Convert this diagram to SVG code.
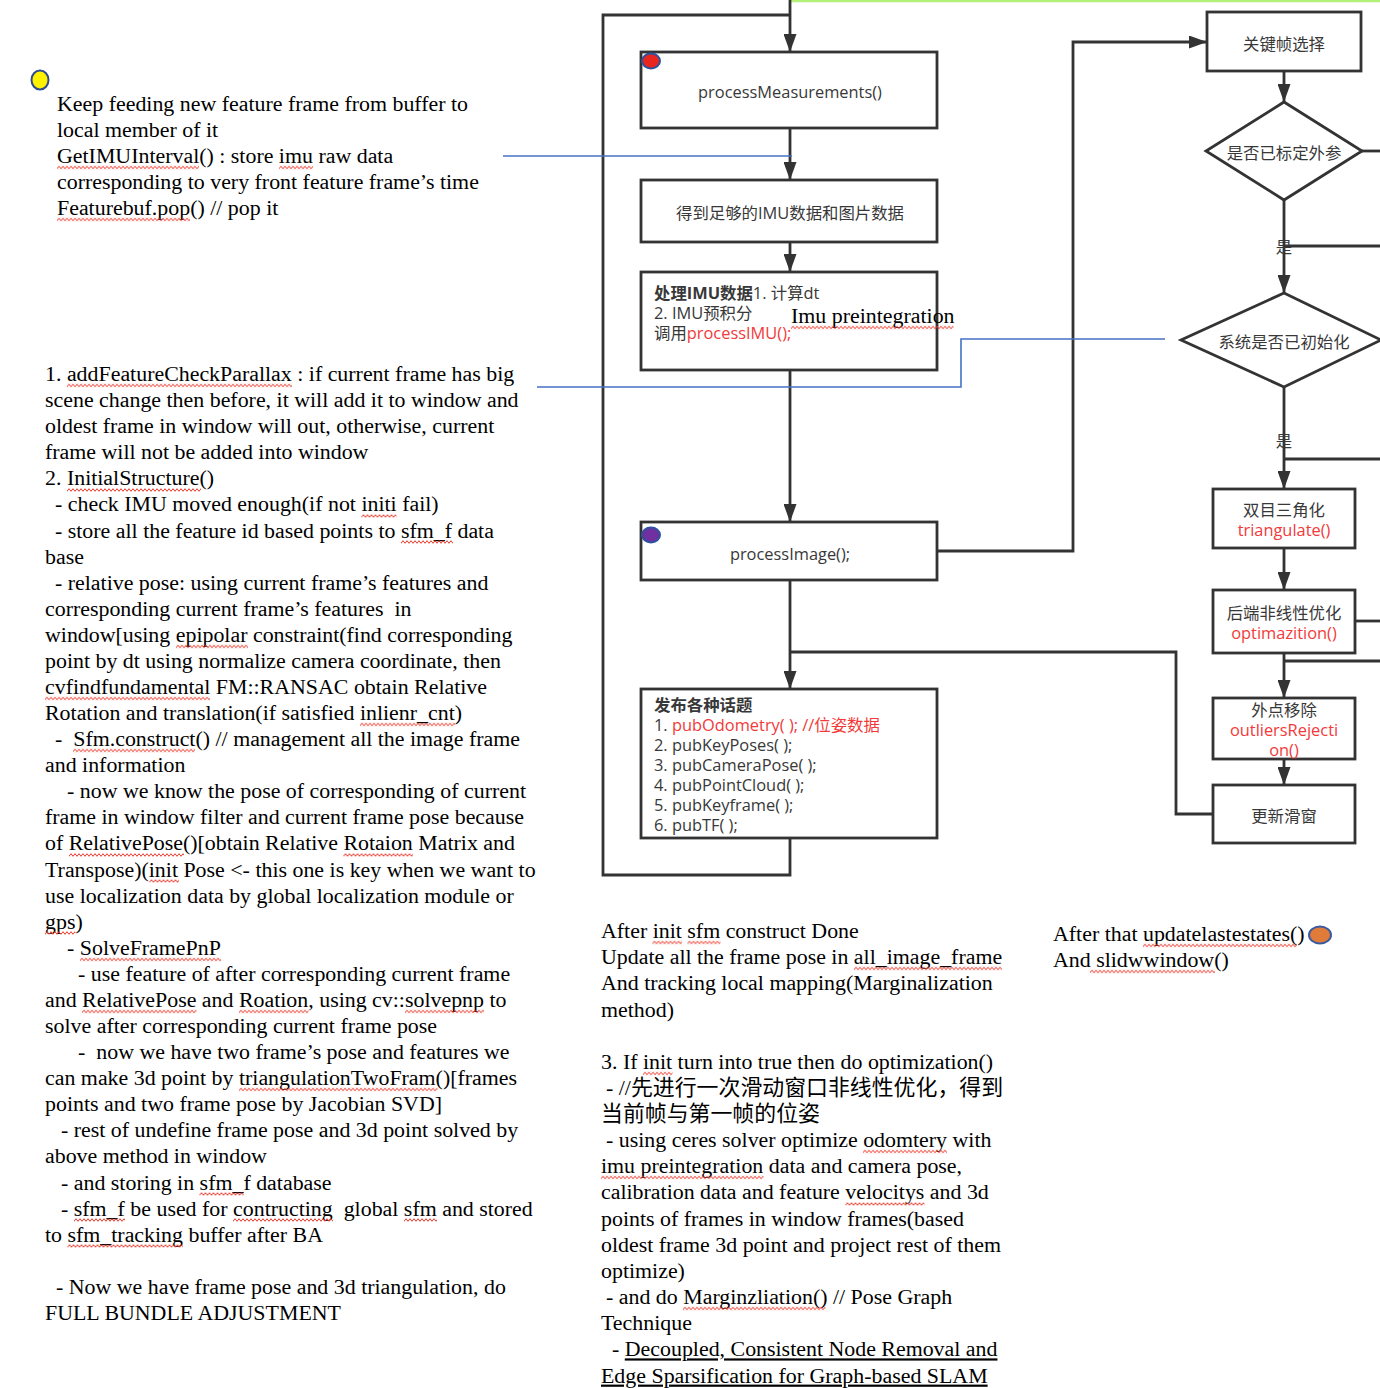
<svg xmlns="http://www.w3.org/2000/svg" width="1380" height="1388" viewBox="0 0 1380 1388">
<defs>
<marker id="arr" markerUnits="userSpaceOnUse" markerWidth="18" markerHeight="13" refX="18" refY="6.5" orient="auto">
<path d="M0,0 L18,6.5 L0,13 z" fill="#333"/>
</marker>
<pattern id="wave" patternUnits="userSpaceOnUse" width="4" height="4">
<path d="M-2,0.7 L0,3.3 L2,0.7 L4,3.3 L6,0.7" fill="none" stroke="#e8392b" stroke-width="1"/>
</pattern>
</defs>
<style>
.box{fill:#fff;stroke:#333;stroke-width:2.8}
.conn{fill:none;stroke:#333;stroke-width:2.8}
.note{fill:none;stroke:#4472C4;stroke-width:1.6}
.fc{font-family:"Open Sans","Noto Sans CJK SC",sans-serif;font-size:16.4px;fill:#383838}
.mid{text-anchor:middle}
.red{fill:#f23a3a}
.b{font-weight:bold}
.doc{font-family:"Liberation Serif","Noto Sans CJK SC",serif;font-size:21.9px;fill:#000}
.ul{text-decoration:underline}
</style>
<rect width="1380" height="1388" fill="#fff"/>

<g id="connectors">
<path d="M790,1 L1380,1" fill="none" stroke="#b2f07a" stroke-width="2.5"/>
<path class="conn" d="M790,0 L790,52" marker-end="url(#arr)"/>
<path class="conn" d="M790,15 L603,15 L603,875 L790,875 L790,838"/>
<path class="conn" d="M790,128 L790,180" marker-end="url(#arr)"/>
<path class="conn" d="M790,242 L790,272" marker-end="url(#arr)"/>
<path class="conn" d="M790,370 L790,522" marker-end="url(#arr)"/>
<path class="conn" d="M790,580 L790,689" marker-end="url(#arr)"/>
<path class="conn" d="M790,652 L1176,652 L1176,814 L1213,814"/>
<path class="conn" d="M937,551 L1073,551 L1073,42 L1207,42" marker-end="url(#arr)"/>
<path class="conn" d="M1284,71 L1284,102" marker-end="url(#arr)"/>
<path class="conn" d="M1362,151 L1380,151"/>
<path class="conn" d="M1284,200 L1284,293" marker-end="url(#arr)"/>
<path class="conn" d="M1284,246 L1380,246"/>
<path class="conn" d="M1284,387 L1284,489" marker-end="url(#arr)"/>
<path class="conn" d="M1284,459 L1380,459"/>
<path class="conn" d="M1284,548 L1284,590" marker-end="url(#arr)"/>
<path class="conn" d="M1355,621 L1380,621"/>
<path class="conn" d="M1284,661 L1380,661"/>
<path class="conn" d="M1284,653 L1284,698" marker-end="url(#arr)"/>
<path class="conn" d="M1284,759 L1284,785" marker-end="url(#arr)"/>
<path class="note" d="M503,156 L792,156"/>
<path class="note" d="M537,387 L961,387 L961,339 L1165,339"/>
</g>

<g id="processMeasurements">
<rect class="box" x="641" y="52" width="296" height="76"/>
<ellipse cx="651" cy="61" rx="9" ry="7.5" fill="#e8261f" stroke="#2f52a0" stroke-width="2"/>
<text class="fc mid" x="790" y="98">processMeasurements()</text>
</g>
<g id="getData">
<rect class="box" x="641" y="180" width="296" height="62"/>
<text class="fc mid" x="790" y="219">得到足够的IMU数据和图片数据</text>
</g>
<g id="processIMU">
<rect class="box" x="641" y="272" width="296" height="98"/>
<text class="fc" x="654" y="299"><tspan class="b">处理IMU数据</tspan>1. 计算dt</text>
<text class="fc" x="654" y="319">2. IMU预积分</text>
<text class="fc" x="654" y="339">调用<tspan class="red">processIMU();</tspan></text>
<text class="doc" x="791" y="323">Imu preintegration</text>
</g>
<g id="processImage">
<rect class="box" x="641" y="522" width="296" height="58"/>
<ellipse cx="651" cy="535" rx="9" ry="7.5" fill="#7030a0" stroke="#2f52a0" stroke-width="2"/>
<text class="fc mid" x="790" y="560">processImage();</text>
</g>
<g id="publish">
<rect class="box" x="641" y="689" width="296" height="149"/>
<text class="fc b" x="654" y="711">发布各种话题</text>
<text class="fc" x="654" y="731">1. <tspan class="red">pubOdometry( ); //位姿数据</tspan></text>
<text class="fc" x="654" y="751">2. pubKeyPoses( );</text>
<text class="fc" x="654" y="771">3. pubCameraPose( );</text>
<text class="fc" x="654" y="791">4. pubPointCloud( );</text>
<text class="fc" x="654" y="811">5. pubKeyframe( );</text>
<text class="fc" x="654" y="831">6. pubTF( );</text>
</g>
<g id="keyframe">
<rect class="box" x="1207" y="12" width="154" height="59"/>
<text class="fc mid" x="1284" y="50">关键帧选择</text>
</g>
<g id="calibDecision">
<polygon class="box" points="1284,102 1362,151 1284,200 1206,151"/>
<text class="fc mid" x="1284" y="159">是否已标定外参</text>
<text class="fc mid" x="1284" y="253">是</text>
</g>
<g id="initDecision">
<polygon class="box" points="1284,293 1381,340 1284,387 1181,340"/>
<text class="fc mid" x="1284" y="348">系统是否已初始化</text>
<text class="fc mid" x="1284" y="447">是</text>
</g>
<g id="triangulate">
<rect class="box" x="1213" y="489" width="142" height="59"/>
<text class="fc mid" x="1284" y="516">双目三角化</text>
<text class="fc mid red" x="1284" y="536">triangulate()</text>
</g>
<g id="optimization">
<rect class="box" x="1213" y="590" width="142" height="63"/>
<text class="fc mid" x="1284" y="619">后端非线性优化</text>
<text class="fc mid red" x="1284" y="639">optimazition()</text>
</g>
<g id="outliers">
<rect class="box" x="1213" y="698" width="142" height="61"/>
<text class="fc mid" x="1284" y="716">外点移除</text>
<text class="fc mid red" x="1284" y="736">outliersRejecti</text>
<text class="fc mid red" x="1284" y="756">on()</text>
</g>
<g id="slideWindow">
<rect class="box" x="1213" y="785" width="142" height="58"/>
<text class="fc mid" x="1284" y="822">更新滑窗</text>
</g>

<g id="note1">
<ellipse cx="40" cy="80" rx="8.5" ry="9.5" fill="#fff200" stroke="#2f4b8c" stroke-width="2"/>
<text class="doc" x="57" y="111">Keep feeding new feature frame from buffer to</text>
<text class="doc" x="57" y="137">local member of it</text>
<text class="doc" x="57" y="163">GetIMUInterval() : store imu raw data</text>
<text class="doc" x="57" y="189">corresponding to very front feature frame’s time</text>
<text class="doc" x="57" y="215">Featurebuf.pop() // pop it</text>
</g>

<g id="note2">
<text class="doc" x="45" y="381">1. addFeatureCheckParallax : if current frame has big</text>
<text class="doc" x="45" y="407.1">scene change then before, it will add it to window and</text>
<text class="doc" x="45" y="433.2">oldest frame in window will out, otherwise, current</text>
<text class="doc" x="45" y="459.2">frame will not be added into window</text>
<text class="doc" x="45" y="485.3">2. InitialStructure()</text>
<text class="doc" x="55" y="511.4">- check IMU moved enough(if not initi fail)</text>
<text class="doc" x="55" y="537.5">- store all the feature id based points to sfm_f data</text>
<text class="doc" x="45" y="563.6">base</text>
<text class="doc" x="55" y="589.6">- relative pose: using current frame’s features and</text>
<text class="doc" x="45" y="615.7" xml:space="preserve">corresponding current frame’s features  in</text>
<text class="doc" x="45" y="641.8">window[using epipolar constraint(find corresponding</text>
<text class="doc" x="45" y="667.9">point by dt using normalize camera coordinate, then</text>
<text class="doc" x="45" y="694">cvfindfundamental FM::RANSAC obtain Relative</text>
<text class="doc" x="45" y="720">Rotation and translation(if satisfied inlienr_cnt)</text>
<text class="doc" x="55" y="746.1" xml:space="preserve">-  Sfm.construct() // management all the image frame</text>
<text class="doc" x="45" y="772.2">and information</text>
<text class="doc" x="67" y="798.3">- now we know the pose of corresponding of current</text>
<text class="doc" x="45" y="824.4">frame in window filter and current frame pose because</text>
<text class="doc" x="45" y="850.4">of RelativePose()[obtain Relative Rotaion Matrix and</text>
<text class="doc" x="45" y="876.5">Transpose)(init Pose &lt;- this one is key when we want to</text>
<text class="doc" x="45" y="902.6">use localization data by global localization module or</text>
<text class="doc" x="45" y="928.7">gps)</text>
<text class="doc" x="67" y="954.8">- SolveFramePnP</text>
<text class="doc" x="78" y="980.8">- use feature of after corresponding current frame</text>
<text class="doc" x="45" y="1006.9">and RelativePose and Roation, using cv::solvepnp to</text>
<text class="doc" x="45" y="1033">solve after corresponding current frame pose</text>
<text class="doc" x="78" y="1059.1" xml:space="preserve">-  now we have two frame’s pose and features we</text>
<text class="doc" x="45" y="1085.2">can make 3d point by triangulationTwoFram()[frames</text>
<text class="doc" x="45" y="1111.2">points and two frame pose by Jacobian SVD]</text>
<text class="doc" x="61" y="1137.3">- rest of undefine frame pose and 3d point solved by</text>
<text class="doc" x="45" y="1163.4">above method in window</text>
<text class="doc" x="61" y="1189.5">- and storing in sfm_f database</text>
<text class="doc" x="61" y="1215.6" xml:space="preserve">- sfm_f be used for contructing  global sfm and stored</text>
<text class="doc" x="45" y="1241.6">to sfm_tracking buffer after BA</text>
<text class="doc" x="56" y="1293.8">- Now we have frame pose and 3d triangulation, do</text>
<text class="doc" x="45" y="1319.9">FULL BUNDLE ADJUSTMENT</text>
</g>

<g id="note3">
<text class="doc" x="601" y="938">After init sfm construct Done</text>
<text class="doc" x="601" y="964.2">Update all the frame pose in all_image_frame</text>
<text class="doc" x="601" y="990.3">And tracking local mapping(Marginalization</text>
<text class="doc" x="601" y="1016.5">method)</text>
<text class="doc" x="601" y="1068.8">3. If init turn into true then do optimization()</text>
<text class="doc" x="606" y="1094.9">- //先进行一次滑动窗口非线性优化，得到</text>
<text class="doc" x="601" y="1121.1">当前帧与第一帧的位姿</text>
<text class="doc" x="606" y="1147.2">- using ceres solver optimize odomtery with</text>
<text class="doc" x="601" y="1173.2">imu preintegration data and camera pose,</text>
<text class="doc" x="601" y="1199.4">calibration data and feature velocitys and 3d</text>
<text class="doc" x="601" y="1225.5">points of frames in window frames(based</text>
<text class="doc" x="601" y="1251.7">oldest frame 3d point and project rest of them</text>
<text class="doc" x="601" y="1277.8">optimize)</text>
<text class="doc" x="606" y="1304.1">- and do Marginzliation() // Pose Graph</text>
<text class="doc" x="601" y="1330.3">Technique</text>
<text class="doc" x="612" y="1356.4">- <tspan class="ul">Decoupled, Consistent Node Removal and</tspan></text>
<text class="doc" x="601" y="1382.6"><tspan class="ul">Edge Sparsification for Graph-based SLAM</tspan></text>
</g>

<g id="note4">
<text class="doc" x="1053" y="941">After that updatelastestates()</text>
<ellipse cx="1320" cy="935" rx="11" ry="8.5" fill="#e07b39" stroke="#3a5ba0" stroke-width="2"/>
<text class="doc" x="1053" y="967">And slidwwindow()</text>
</g>

<g id="spellcheck" fill="url(#wave)">
<rect transform="translate(57,165.5)" width="142" height="4"/>
<rect transform="translate(279,165.5)" width="34" height="4"/>
<rect transform="translate(57,217.5)" width="133" height="4"/>
<rect transform="translate(67,383.5)" width="225" height="4"/>
<rect transform="translate(67,488)" width="134" height="4"/>
<rect transform="translate(361.5,514)" width="35" height="4"/>
<rect transform="translate(401,540)" width="52" height="4"/>
<rect transform="translate(176,644.5)" width="72" height="4"/>
<rect transform="translate(45,696.5)" width="165" height="4"/>
<rect transform="translate(360,722.5)" width="95" height="4"/>
<rect transform="translate(73,748.5)" width="122" height="4"/>
<rect transform="translate(69,853)" width="115" height="4"/>
<rect transform="translate(343.5,853)" width="69.5" height="4"/>
<rect transform="translate(149.5,879)" width="29.5" height="4"/>
<rect transform="translate(45,931)" width="30.5" height="4"/>
<rect transform="translate(80,957.5)" width="141" height="4"/>
<rect transform="translate(82,1009.5)" width="114.5" height="4"/>
<rect transform="translate(239,1009.5)" width="69.5" height="4"/>
<rect transform="translate(405,1009.5)" width="79" height="4"/>
<rect transform="translate(239,1087.5)" width="198.5" height="4"/>
<rect transform="translate(199.5,1192)" width="44" height="4"/>
<rect transform="translate(74,1218)" width="51" height="4"/>
<rect transform="translate(233,1218)" width="100" height="4"/>
<rect transform="translate(404,1218)" width="33" height="4"/>
<rect transform="translate(67.5,1244)" width="115.5" height="4"/>
<rect transform="translate(652.5,940.5)" width="29.5" height="4"/>
<rect transform="translate(687.5,940.5)" width="33" height="4"/>
<rect transform="translate(854,966.5)" width="148" height="4"/>
<rect transform="translate(643,1071.5)" width="29.5" height="4"/>
<rect transform="translate(863,1149.5)" width="84" height="4"/>
<rect transform="translate(601,1175.5)" width="162.5" height="4"/>
<rect transform="translate(845.5,1202)" width="79" height="4"/>
<rect transform="translate(683,1306.5)" width="142.5" height="4"/>
<rect transform="translate(1143,943.5)" width="154" height="4"/>
<rect transform="translate(1090,969.5)" width="125" height="4"/>
<rect transform="translate(791,325.5)" width="162.5" height="4"/>
</g>
</svg>
